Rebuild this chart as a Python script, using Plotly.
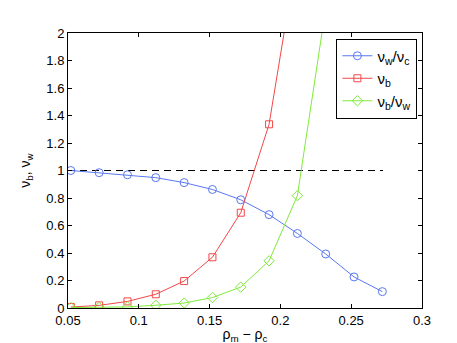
import plotly.graph_objects as go

# density offset rho_m - rho_c
x = [0.052, 0.072, 0.092, 0.112, 0.132, 0.152, 0.172, 0.192, 0.212, 0.232, 0.252, 0.272]
vw_vc = [1.0, 0.984, 0.969, 0.948, 0.912, 0.862, 0.787, 0.679, 0.542, 0.393, 0.226, 0.119]
x_b = [0.052, 0.072, 0.092, 0.112, 0.132, 0.152, 0.172, 0.192, 0.212]
vb = [0.007, 0.019, 0.048, 0.100, 0.196, 0.369, 0.693, 1.336, 2.59]
x_bw = [0.052, 0.072, 0.092, 0.112, 0.132, 0.152, 0.172, 0.192, 0.212, 0.232]
vb_vw = [0.003, 0.005, 0.008, 0.020, 0.036, 0.076, 0.152, 0.343, 0.817, 2.18]
ref_x = [0.05, 0.2725]
ref_y = [1, 1]

xticks = [0.05, 0.1, 0.15, 0.2, 0.25, 0.3]
yticks = [0, 0.2, 0.4, 0.6, 0.8, 1, 1.2, 1.4, 1.6, 1.8, 2]
yticktext = ['0', '0.2', '0.4', '0.6', '0.8', '1', '1.2', '1.4', '1.6', '1.8', '2']

fnt = 'Liberation Sans, Arial, sans-serif'

fig = go.Figure()
fig.add_scatter(x=ref_x, y=ref_y, mode='lines', showlegend=False,
                line=dict(color='black', width=1, dash='7px,5px'))
fig.add_scatter(x=x, y=vw_vc, mode='lines+markers', name='ν<sub>w</sub>/ν<sub>c</sub>',
                line=dict(color='#5a78f0', width=1),
                marker=dict(symbol='circle-open', size=8, color='#5a78f0', line=dict(width=1)))
fig.add_scatter(x=x_b, y=vb, mode='lines+markers', name='ν<sub>b</sub>',
                line=dict(color='#f24848', width=1),
                marker=dict(symbol='square-open', size=7, color='#f24848', line=dict(width=1)))
fig.add_scatter(x=x_bw, y=vb_vw, mode='lines+markers', name='ν<sub>b</sub>/ν<sub>w</sub>',
                line=dict(color='#80ea3a', width=1),
                marker=dict(symbol='diamond-open', size=8, color='#80ea3a', line=dict(width=1)))

axis_style = dict(showline=True, linecolor='black', linewidth=1, mirror='ticks',
                  ticks='inside', ticklen=4, tickcolor='black', showgrid=False,
                  zeroline=False, tickfont=dict(family=fnt, size=13, color='black'))

fig.update_xaxes(range=[0.05, 0.3], tickvals=xticks, ticktext=['0.05', '0.1', '0.15', '0.2', '0.25', '0.3'],
                 title=dict(text='ρ<sub>m</sub> − ρ<sub>c</sub>', font=dict(family=fnt, size=14, color='black'),
                            standoff=2),
                 **axis_style)
fig.update_yaxes(range=[0, 2], tickvals=yticks, ticktext=yticktext,
                 title=dict(text='ν<sub>b</sub>, ν<sub>w</sub>', font=dict(family=fnt, size=14, color='black'),
                            standoff=12),
                 **axis_style)

fig.update_layout(
    width=457, height=343,
    margin=dict(l=60, r=43, t=25, b=38),
    paper_bgcolor='white', plot_bgcolor='white',
    font=dict(family=fnt, color='black'),
    legend=dict(x=0.987, y=0.98, xanchor='right', yanchor='top',
                bgcolor='white', bordercolor='black', borderwidth=1,
                font=dict(family=fnt, size=15, color='black'),
                itemwidth=30, tracegroupgap=0),
)

fig.write_html("out.html")
